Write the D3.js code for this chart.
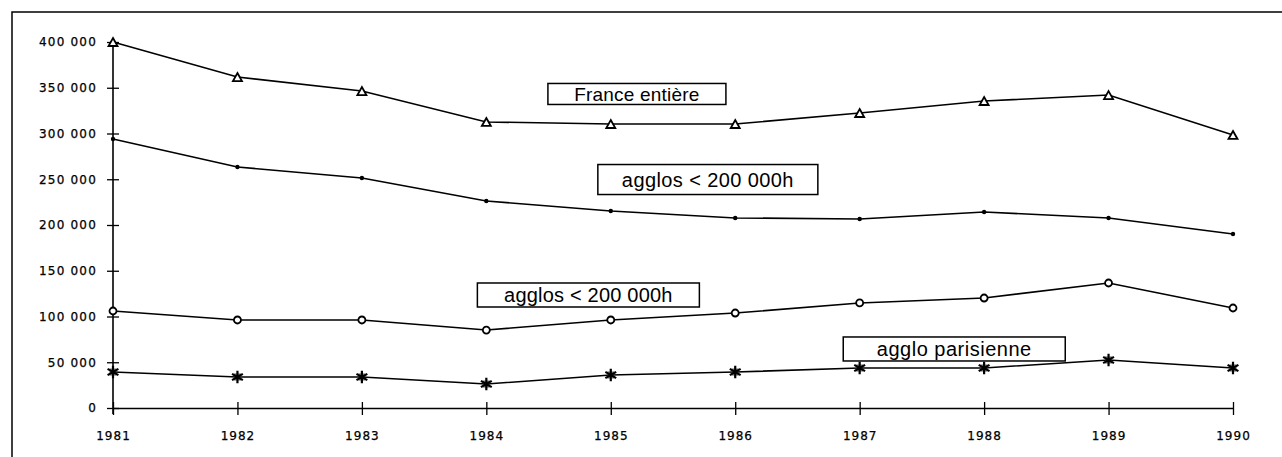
<!DOCTYPE html>
<html>
  <head>
    <script src="https://d3js.org/d3.v7.min.js"></script>
    <style>
      body { margin: 0; background: #fff; }
    </style>
  </head>
  <body>
    <svg id="chart" width="1282" height="457"></svg>
  <script>
  // Data
  var years = [1981, 1982, 1983, 1984, 1985, 1986, 1987, 1988, 1989, 1990];
  var franceEntiere = [400000, 361700, 346400, 312600, 310400, 310400, 322400, 335500, 342000, 298400];
  var agglosPetites = [294000, 263400, 251400, 226200, 215300, 207700, 206600, 214200, 207700, 190200];
  var agglosGrandes = [106000, 96200, 96200, 85200, 96200, 103800, 114800, 120200, 136600, 109300];
  var aggloParis = [39300, 33900, 33900, 26200, 36100, 39300, 43700, 43700, 52500, 43700];
  var yTicks = [0, 50000, 100000, 150000, 200000, 250000, 300000, 350000, 400000];

  // label boxes, centred on a (year, value) spot of the chart
  var labels = [
    { text: "France entière", year: 1985.21, value: 343200, w: 178, h: 21, size: 19, ls: 0.2 },
    { text: "agglos < 200 000h", year: 1985.78, value: 249700, w: 220, h: 30, size: 20, ls: 0.4 },
    { text: "agglos < 200 000h", year: 1984.82, value: 123500, w: 222, h: 24, size: 20, ls: 0.2 },
    { text: "agglo parisienne", year: 1987.76, value: 64500, w: 222, h: 24, size: 20, ls: 0.5 }
  ];

  var svg = d3.select("#chart");

  // Scales
  var x = d3.scaleLinear().domain([1981, 1990]).range([113, 1233]);
  var y = d3.scaleLinear().domain([0, 400000]).range([408, 42]);

  var fmt = function(d) { return d3.format(",")(d).replace(/,/g, " "); };

  // outer frame (left and top only)
  svg.append("path")
    .attr("d", "M12,457 L12,12 L1282,12")
    .attr("fill", "none")
    .attr("stroke", "#000")
    .attr("stroke-width", 1.5);

  // y axis
  var yAxis = svg.append("g")
    .attr("transform", "translate(113,0)")
    .call(d3.axisLeft(y).tickValues(yTicks).tickFormat(fmt).tickSize(6).tickSizeOuter(0));
  yAxis.select(".domain").remove();
  yAxis.selectAll(".tick line").attr("x1", 6).attr("x2", -6).attr("stroke-width", 1.3);
  yAxis.selectAll(".tick text")
    .attr("x", -16)
    .attr("font-family", "DejaVu Sans")
    .attr("font-size", 12)
    .attr("letter-spacing", 1.2)
    .attr("fill", "#000")
    .attr("stroke", "#000").attr("stroke-width", 0.25);
  svg.append("line")
    .attr("x1", 113).attr("x2", 113)
    .attr("y1", y(400000)).attr("y2", 414)
    .attr("stroke", "#000").attr("stroke-width", 1.6);

  // x axis
  var xAxis = svg.append("g")
    .attr("transform", "translate(0," + y(0) + ")")
    .call(d3.axisBottom(x).tickValues(years).tickFormat(d3.format("d")).tickSize(6).tickSizeOuter(0));
  xAxis.select(".domain").attr("stroke-width", 1.6);
  xAxis.selectAll(".tick line").attr("y1", -6).attr("y2", 7).attr("stroke-width", 1.3);
  xAxis.selectAll(".tick text")
    .attr("y", 23)
    .attr("font-family", "DejaVu Sans")
    .attr("font-size", 12)
    .attr("letter-spacing", 1)
    .attr("fill", "#000")
    .attr("stroke", "#000").attr("stroke-width", 0.25);

  var line = d3.line()
    .x(function(d, i) { return x(years[i]); })
    .y(function(d) { return y(d); });

  var series = [
    { values: franceEntiere, marker: "triangle" },
    { values: agglosPetites, marker: "dot" },
    { values: agglosGrandes, marker: "circle" },
    { values: aggloParis, marker: "star" }
  ];

  series.forEach(function(s) {
    svg.append("path")
      .datum(s.values)
      .attr("d", line)
      .attr("fill", "none")
      .attr("stroke", "#000")
      .attr("stroke-width", 1.6);

    var g = svg.append("g").selectAll("g")
      .data(s.values)
      .enter().append("g")
      .attr("transform", function(d, i) { return "translate(" + x(years[i]) + "," + y(d) + ")"; });

    if (s.marker === "triangle") {
      g.append("path")
        .attr("d", "M0,-4 L4.5,4 L-4.5,4 Z")
        .attr("fill", "#fff").attr("stroke", "#000").attr("stroke-width", 1.8);
    } else if (s.marker === "dot") {
      g.append("circle").attr("r", 2.2).attr("fill", "#000");
    } else if (s.marker === "circle") {
      g.append("circle").attr("r", 3.5)
        .attr("fill", "#fff").attr("stroke", "#000").attr("stroke-width", 1.8);
    } else {
      g.append("path")
        .attr("d", d3.symbol().type(d3.symbolSquare).size(50))
        .attr("fill", "#333").attr("opacity", 0.7);
      g.append("path")
        .attr("d", d3.symbol().type(d3.symbolAsterisk).size(110))
        .attr("fill", "none").attr("stroke", "#000").attr("stroke-width", 2.2);
    }
  });

  // label boxes
  labels.forEach(function(l) {
    var cx = x(l.year), cy = y(l.value);
    svg.append("rect")
      .attr("x", cx - l.w / 2).attr("y", cy - l.h / 2)
      .attr("width", l.w).attr("height", l.h)
      .attr("fill", "#fff").attr("stroke", "#000").attr("stroke-width", 1.5);
    svg.append("text")
      .attr("x", cx).attr("y", cy + l.size * 0.36)
      .attr("text-anchor", "middle")
      .attr("font-family", "Liberation Sans")
      .attr("font-size", l.size)
      .attr("letter-spacing", l.ls)
      .attr("fill", "#000")
      .text(l.text);
  });
  </script>
  </body>
</html>
